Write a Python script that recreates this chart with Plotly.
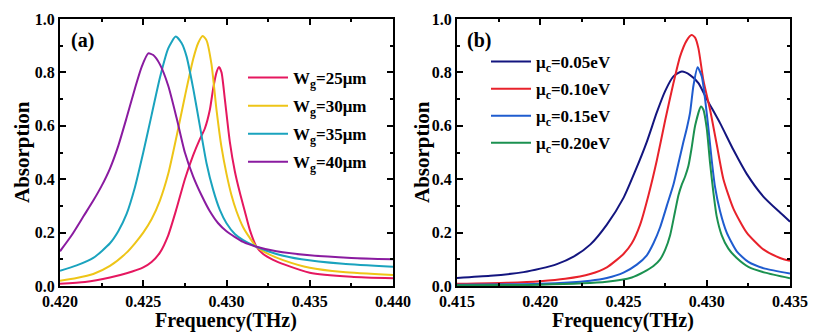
import plotly.graph_objects as go

# ---------------- Panel (a): graphene width Wg ----------------
f_w25 = [0.4200, 0.4215, 0.4230, 0.4240, 0.4250, 0.4255, 0.4260, 0.4265, 0.4270, 0.4275,
         0.4280, 0.4284, 0.4287, 0.4290, 0.4292, 0.4294, 0.42955, 0.4297, 0.4299, 0.4302,
         0.4305, 0.4308, 0.4311, 0.4314, 0.4318, 0.4322, 0.4328, 0.4335, 0.4350, 0.4375,
         0.4400]
a_w25 = [0.008, 0.015, 0.032, 0.048, 0.070, 0.090, 0.125, 0.19, 0.29, 0.40,
         0.49, 0.55, 0.59, 0.66, 0.74, 0.80, 0.82, 0.80, 0.70, 0.54,
         0.43, 0.35, 0.28, 0.21, 0.147, 0.12, 0.098, 0.080, 0.050, 0.035,
         0.029]

f_w30 = [0.4200, 0.4210, 0.4220, 0.4230, 0.4240, 0.4245, 0.4250, 0.4255, 0.4260, 0.4265,
         0.4270, 0.4275, 0.4280, 0.4283, 0.42857, 0.4288, 0.4291, 0.4294, 0.4297, 0.4300,
         0.4303, 0.4306, 0.4310, 0.4314, 0.4318, 0.4325, 0.4334, 0.4350, 0.4370, 0.4400]
a_w30 = [0.020, 0.030, 0.045, 0.075, 0.125, 0.16, 0.20, 0.25, 0.32, 0.42,
         0.56, 0.71, 0.85, 0.91, 0.936, 0.92, 0.83, 0.66, 0.52, 0.42,
         0.34, 0.28, 0.22, 0.18, 0.147, 0.12, 0.097, 0.068, 0.052, 0.041]

f_w35 = [0.4200, 0.4210, 0.4220, 0.4230, 0.4235, 0.4240, 0.4245, 0.4250, 0.4255, 0.4260,
         0.4265, 0.42695, 0.4273, 0.4276, 0.4280, 0.4284, 0.4288, 0.4292, 0.4296, 0.4300,
         0.4305, 0.4310, 0.4318, 0.4330, 0.4345, 0.4370, 0.4400]
a_w35 = [0.057, 0.077, 0.105, 0.160, 0.205, 0.27, 0.37, 0.50, 0.64, 0.78,
         0.89, 0.934, 0.91, 0.86, 0.74, 0.60, 0.46, 0.36, 0.285, 0.235,
         0.195, 0.172, 0.147, 0.120, 0.100, 0.083, 0.072]

f_w40 = [0.4200, 0.4207, 0.4214, 0.4220, 0.4225, 0.4230, 0.4235, 0.4240, 0.4245, 0.4249,
         0.4253, 0.4256, 0.4260, 0.4265, 0.4270, 0.4275, 0.4280, 0.4285, 0.4290, 0.4295,
         0.4300, 0.4310, 0.4318, 0.4330, 0.4350, 0.4375, 0.4400]
a_w40 = [0.130, 0.190, 0.260, 0.320, 0.375, 0.44, 0.525, 0.63, 0.74, 0.82,
         0.871, 0.865, 0.83, 0.75, 0.63, 0.50, 0.41, 0.34, 0.28, 0.235,
         0.205, 0.165, 0.147, 0.130, 0.115, 0.105, 0.100]

# ---------------- Panel (b): chemical potential mu_c ----------------
f_m05 = [0.4150, 0.4170, 0.4190, 0.4200, 0.4210, 0.4220, 0.4230, 0.4240, 0.4250, 0.4257,
         0.4264, 0.4270, 0.4275, 0.4280, 0.4285, 0.4290, 0.4295, 0.4300, 0.4308, 0.4316,
         0.4324, 0.4334, 0.4344, 0.4350]
a_m05 = [0.030, 0.038, 0.052, 0.065, 0.082, 0.11, 0.155, 0.23, 0.33, 0.43,
         0.54, 0.65, 0.73, 0.785, 0.803, 0.79, 0.76, 0.70, 0.61, 0.51,
         0.42, 0.335, 0.275, 0.241]

f_m10 = [0.4150, 0.4180, 0.4200, 0.4215, 0.4230, 0.4240, 0.4250, 0.4255, 0.4260, 0.4265,
         0.4270, 0.4275, 0.4280, 0.4284, 0.4288, 0.42909, 0.4293, 0.4295, 0.4298, 0.4302,
         0.4306, 0.4310, 0.4316, 0.4324, 0.4334, 0.4344, 0.4350]
a_m10 = [0.008, 0.012, 0.018, 0.027, 0.045, 0.07, 0.12, 0.16, 0.23, 0.34,
         0.47, 0.62, 0.76, 0.86, 0.92, 0.94, 0.93, 0.89, 0.77, 0.66,
         0.53, 0.40, 0.29, 0.20, 0.137, 0.105, 0.094]

f_m15 = [0.4150, 0.4200, 0.4230, 0.4240, 0.4250, 0.4258, 0.4264, 0.4268, 0.4272, 0.4276,
         0.4280, 0.4283, 0.4286, 0.4288, 0.4290, 0.4292, 0.42945, 0.4297, 0.4299, 0.4301,
         0.4303, 0.4305, 0.4308, 0.4312, 0.4318, 0.4325, 0.4335, 0.4350]
a_m15 = [0.005, 0.008, 0.020, 0.030, 0.05, 0.08, 0.115, 0.16, 0.22, 0.30,
         0.38, 0.46, 0.54, 0.59, 0.65, 0.75, 0.819, 0.785, 0.70, 0.59,
         0.47, 0.37, 0.28, 0.20, 0.13, 0.09, 0.065, 0.047]

f_m20 = [0.4150, 0.4200, 0.4240, 0.4255, 0.4262, 0.4268, 0.4272, 0.4275, 0.4278, 0.4281,
         0.4283, 0.4285, 0.4287, 0.4289, 0.4291, 0.4293, 0.42965, 0.4298, 0.4300, 0.4302,
         0.4304, 0.4306, 0.4309, 0.4313, 0.4318, 0.4325, 0.4335, 0.4350]
a_m20 = [0.003, 0.005, 0.016, 0.032, 0.052, 0.075, 0.10, 0.135, 0.19, 0.28,
         0.34, 0.38, 0.41, 0.45, 0.52, 0.60, 0.672, 0.66, 0.59, 0.46,
         0.35, 0.26, 0.19, 0.14, 0.105, 0.072, 0.050, 0.029]

labels_a = ["W<sub>g</sub>=25μm", "W<sub>g</sub>=30μm", "W<sub>g</sub>=35μm", "W<sub>g</sub>=40μm"]
labels_b = ["μ<sub>c</sub>=0.05eV", "μ<sub>c</sub>=0.10eV", "μ<sub>c</sub>=0.15eV", "μ<sub>c</sub>=0.20eV"]
colors_a = ["#E5175F", "#EEC517", "#1AA3BE", "#8A1BA0"]
colors_b = ["#13157F", "#E8222B", "#1F5CCF", "#1B9150"]

xticks_a = [0.420, 0.425, 0.430, 0.435, 0.440]
xticks_b = [0.415, 0.420, 0.425, 0.430, 0.435]
yticks = [0.0, 0.2, 0.4, 0.6, 0.8, 1.0]

FONT = "Liberation Serif"
W, H = 839, 335

def bold(size):
    return dict(family=FONT, size=size, color="black", weight="bold")

fig = go.Figure()
series_a = [(f_w25, a_w25), (f_w30, a_w30), (f_w35, a_w35), (f_w40, a_w40)]
series_b = [(f_m05, a_m05), (f_m10, a_m10), (f_m15, a_m15), (f_m20, a_m20)]
for i, (fx, ay) in enumerate(series_a):
    fig.add_trace(go.Scatter(x=fx, y=ay, mode="lines", name=labels_a[i],
                             line=dict(color=colors_a[i], width=2, shape="spline", smoothing=0.6),
                             xaxis="x", yaxis="y", legend="legend", legendgroup="a%d" % i))
for i, (fx, ay) in enumerate(series_b):
    fig.add_trace(go.Scatter(x=fx, y=ay, mode="lines", name=labels_b[i],
                             line=dict(color=colors_b[i], width=2, shape="spline", smoothing=0.6),
                             xaxis="x2", yaxis="y2", legend="legend2", legendgroup="b%d" % i))

axis_common = dict(showline=True, linecolor="black", linewidth=2, mirror="allticks",
                   ticks="inside", ticklen=6, tickwidth=2, tickcolor="black",
                   showgrid=False, zeroline=False, automargin=False,
                   tickfont=bold(16))
minor = dict(ticks="inside", ticklen=3, tickwidth=1.5, tickcolor="black", showgrid=False)

ydom = [49 / H, 316 / H]

def ann(text, x, y, size, angle=0):
    return dict(text=text, x=x / W, y=1 - y / H, xref="paper", yref="paper",
                xanchor="center", yanchor="middle", textangle=angle,
                showarrow=False, font=bold(size))

fig.update_layout(
    width=W, height=H, margin=dict(l=0, r=0, t=0, b=0, autoexpand=False),
    paper_bgcolor="white", plot_bgcolor="white",
    xaxis=dict(domain=[60 / W, 393 / W], range=[0.420, 0.440], tickvals=xticks_a,
               ticktext=["%.3f" % v for v in xticks_a], minor=dict(dtick=0.0025, **minor),
               anchor="y", **axis_common),
    yaxis=dict(domain=ydom, range=[0, 1.0], tickvals=yticks,
               ticktext=["%.1f" % v for v in yticks], minor=dict(dtick=0.1, **minor),
               anchor="x", **axis_common),
    xaxis2=dict(domain=[457 / W, 790 / W], range=[0.415, 0.435], tickvals=xticks_b,
                ticktext=["%.3f" % v for v in xticks_b], minor=dict(dtick=0.0025, **minor),
                anchor="y2", **axis_common),
    yaxis2=dict(domain=ydom, range=[0, 1.0], tickvals=yticks,
                ticktext=["%.1f" % v for v in yticks], minor=dict(dtick=0.1, **minor),
                anchor="x2", **axis_common),
    legend=dict(x=243 / W, y=1 - 60 / H, xanchor="left", yanchor="top",
                bgcolor="rgba(0,0,0,0)", tracegroupgap=3, itemwidth=40,
                font=bold(17)),
    legend2=dict(x=486 / W, y=1 - 44 / H, xanchor="left", yanchor="top",
                 bgcolor="rgba(0,0,0,0)", tracegroupgap=2, itemwidth=40,
                 font=bold(17)),
    annotations=[
        ann("(a)", 82, 40, 20),
        ann("(b)", 479, 40, 20),
        ann("Absorption", 22, 152, 21, -90),
        ann("Absorption", 422, 152, 21, -90),
        ann("Frequency(THz)", 226, 320, 20),
        ann("Frequency(THz)", 623, 320, 20),
    ],
)

fig.write_html("out.html")
